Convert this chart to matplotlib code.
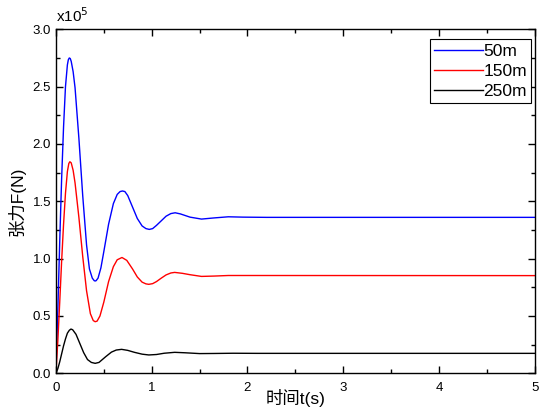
import matplotlib
matplotlib.use("Agg")
from matplotlib import pyplot as plt
from matplotlib.ticker import MultipleLocator, FormatStrFormatter

plt.rcParams['font.family'] = ['Liberation Sans', 'Noto Sans CJK SC', 'DejaVu Sans']

# tension curves (t in s, F in 1e5 N)
t_50 = [0.00, 0.02, 0.04, 0.06, 0.08, 0.10, 0.12, 0.13, 0.14, 0.15, 0.16, 0.18,
        0.20, 0.24, 0.28, 0.32, 0.35, 0.38, 0.40, 0.41, 0.42, 0.44, 0.47, 0.50,
        0.55, 0.60, 0.64, 0.67, 0.695, 0.72, 0.75, 0.80, 0.85, 0.90, 0.94, 0.975,
        1.01, 1.05, 1.10, 1.15, 1.20, 1.245, 1.30, 1.40, 1.52, 1.65, 1.80, 1.95,
        2.2, 3.0, 5.0]
f_50 = [0.00, 0.55, 1.15, 1.70, 2.15, 2.50, 2.69, 2.735, 2.75, 2.745, 2.72, 2.63,
        2.49, 2.05, 1.55, 1.12, 0.91, 0.83, 0.808, 0.805, 0.808, 0.83, 0.92, 1.06,
        1.30, 1.48, 1.56, 1.585, 1.59, 1.585, 1.55, 1.45, 1.35, 1.285, 1.262, 1.255,
        1.262, 1.29, 1.33, 1.37, 1.393, 1.40, 1.39, 1.362, 1.345, 1.355, 1.365, 1.362,
        1.36, 1.36, 1.36]

t_150 = [0.00, 0.02, 0.04, 0.06, 0.08, 0.10, 0.12, 0.135, 0.146, 0.16, 0.18, 0.20,
         0.24, 0.28, 0.32, 0.36, 0.39, 0.41, 0.43, 0.46, 0.50, 0.55, 0.60, 0.64,
         0.69, 0.74, 0.80, 0.85, 0.90, 0.94, 0.97, 1.01, 1.05, 1.10, 1.15, 1.20,
         1.24, 1.32, 1.40, 1.52, 1.65, 1.80, 2.0, 5.0]
f_150 = [0.00, 0.28, 0.62, 0.98, 1.30, 1.57, 1.76, 1.83, 1.845, 1.835, 1.77, 1.66,
         1.36, 1.02, 0.72, 0.52, 0.46, 0.45, 0.455, 0.50, 0.62, 0.80, 0.93, 0.99,
         1.01, 0.985, 0.91, 0.84, 0.795, 0.78, 0.776, 0.782, 0.80, 0.83, 0.858, 0.875,
         0.88, 0.872, 0.86, 0.845, 0.848, 0.853, 0.853, 0.852]

t_250 = [0.00, 0.02, 0.04, 0.06, 0.08, 0.10, 0.12, 0.14, 0.157, 0.175, 0.21, 0.25,
         0.29, 0.33, 0.37, 0.41, 0.45, 0.52, 0.58, 0.63, 0.686, 0.75, 0.82, 0.90,
         0.97, 1.05, 1.13, 1.24, 1.35, 1.50, 1.65, 1.85, 2.1, 5.0]
f_250 = [0.00, 0.04, 0.10, 0.17, 0.24, 0.30, 0.35, 0.375, 0.386, 0.38, 0.34, 0.26,
         0.18, 0.12, 0.095, 0.087, 0.095, 0.145, 0.185, 0.203, 0.209, 0.20, 0.183, 0.167,
         0.16, 0.164, 0.175, 0.183, 0.179, 0.172, 0.173, 0.175, 0.174, 0.174]

fig = plt.figure(figsize=(5.48, 4.11), dpi=100)
ax = fig.add_axes([0.102, 0.0917, 0.874, 0.837])

ax.plot(t_50, f_50, color='#0000ff', lw=1.0, label='50m')
ax.plot(t_150, f_150, color='#ff0000', lw=1.0, label='150m')
ax.plot(t_250, f_250, color='black', lw=1.0, label='250m')

ax.set_xlim(0, 5)
ax.set_ylim(0, 3.0)
ax.xaxis.set_major_locator(MultipleLocator(1))
ax.xaxis.set_minor_locator(MultipleLocator(0.5))
ax.yaxis.set_major_locator(MultipleLocator(0.5))
ax.yaxis.set_minor_locator(MultipleLocator(0.25))
ax.yaxis.set_major_formatter(FormatStrFormatter('%.1f'))
ax.tick_params(which='both', direction='in', top=True, right=True, labelsize=9.5, width=1)
ax.tick_params(which='major', length=5)
ax.tick_params(which='minor', length=3)
ax.tick_params(axis='x', pad=6)
for s in ax.spines.values():
    s.set_linewidth(1)

ax.set_xlabel('时间t(s)', fontsize=12.5, labelpad=-3)
ax.set_ylabel('张力F(N)', fontsize=12.5, labelpad=5)
ax.text(0.0, 1.012, r'x10$^5$', transform=ax.transAxes, fontsize=11,
        ha='left', va='bottom')

leg = ax.legend(loc='upper right', bbox_to_anchor=(0.993, 0.971), borderaxespad=0,
                fontsize=12.5, handlelength=2.8, handletextpad=0.05,
                labelspacing=0.28, borderpad=0.25, fancybox=False,
                edgecolor='black', framealpha=1)
leg.get_frame().set_linewidth(0.8)

fig.savefig('out.png', dpi=100)
